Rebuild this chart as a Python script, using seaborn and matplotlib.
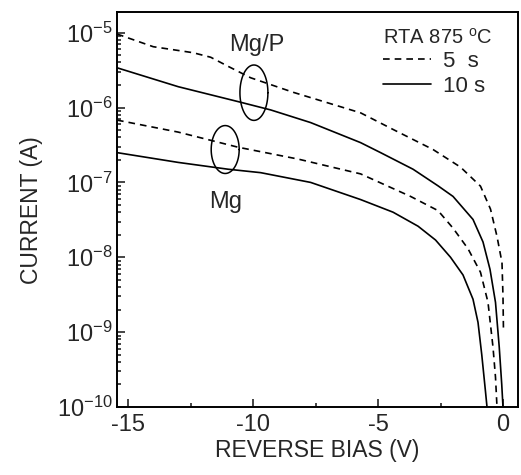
import numpy as np
import matplotlib
matplotlib.use("Agg")
import matplotlib.pyplot as plt
import seaborn as sns

# reverse bias (V) and current (A)
mgp_5s_v = [-15.45, -14.0, -12.4, -11.7, -11.0, -10.1, -8.4, -5.7, -4.4, -2.8, -1.7, -0.9, -0.5, -0.24, -0.04, 0.0, 0.02]
mgp_5s_i = [9.6e-6, 6.5e-6, 5.4e-6, 4.7e-6, 3.55e-6, 2.5e-6, 1.6e-6, 8.5e-7, 5.1e-7, 2.75e-7, 1.6e-7, 8.9e-8, 4.4e-8, 1.9e-8, 8.5e-9, 3.0e-9, 1.0e-9]

mgp_10s_v = [-15.45, -13.0, -10.6, -9.3, -7.7, -5.7, -4.9, -3.6, -2.6, -2.0, -1.2, -0.8, -0.52, -0.3, -0.15, -0.05, 0.0]
mgp_10s_i = [3.4e-6, 1.9e-6, 1.2e-6, 9.3e-7, 6.3e-7, 3.4e-7, 2.5e-7, 1.5e-7, 9.0e-8, 6.5e-8, 3.2e-8, 1.6e-8, 6.9e-9, 2.5e-9, 6.3e-10, 2.0e-10, 1.0e-10]

mg_5s_v = [-15.45, -13.0, -10.6, -8.2, -5.7, -3.7, -2.6, -2.0, -1.4, -0.9, -0.6, -0.4, -0.3, -0.24]
mg_5s_i = [6.8e-7, 4.7e-7, 2.95e-7, 2.05e-7, 1.3e-7, 6.5e-8, 4.2e-8, 2.45e-8, 1.3e-8, 6.3e-9, 2.5e-9, 6.3e-10, 2.5e-10, 1.0e-10]

mg_10s_v = [-15.45, -13.0, -11.0, -9.7, -7.7, -5.7, -4.4, -3.4, -2.7, -2.1, -1.6, -1.2, -1.0, -0.85, -0.7, -0.64]
mg_10s_i = [2.5e-7, 1.85e-7, 1.5e-7, 1.35e-7, 1.0e-7, 5.9e-8, 4.0e-8, 2.6e-8, 1.7e-8, 1.0e-8, 5.8e-9, 2.75e-9, 1.35e-9, 5.0e-10, 1.6e-10, 1.0e-10]

# group marks: ellipse centre (V, A), half width (V), half height (decades)
ellipses = [(-9.97, 1.58e-6, 0.56, 0.37), (-11.12, 2.75e-7, 0.56, 0.32)]

sns.set_style("ticks")
plt.rcParams["font.family"] = ["Liberation Sans", "DejaVu Sans"]
plt.rcParams["mathtext.fontset"] = "custom"
plt.rcParams["mathtext.rm"] = "Liberation Sans"
plt.rcParams["mathtext.it"] = "Liberation Sans:italic"

fig = plt.figure(figsize=(5.21, 4.75), dpi=100)
ax = fig.add_axes([0.2246, 0.1432, 0.7696, 0.8305])

dash = (0, (4, 3))
sns.lineplot(x=mgp_5s_v, y=mgp_5s_i, ax=ax, color="black", lw=1.2, linestyle=dash, label="5  s")
sns.lineplot(x=mgp_10s_v, y=mgp_10s_i, ax=ax, color="black", lw=1.2, label="10 s")
sns.lineplot(x=mg_5s_v, y=mg_5s_i, ax=ax, color="black", lw=1.2, linestyle=dash)
sns.lineplot(x=mg_10s_v, y=mg_10s_i, ax=ax, color="black", lw=1.2)

ax.set_yscale("log")
ax.set_xlim(-15.45, 0.6)
ax.set_ylim(1e-10, 10 ** -4.73)

t = np.linspace(0, 2 * np.pi, 100)
for cx, cy, a, b in ellipses:
    ax.plot(cx + a * np.cos(t), cy * 10 ** (b * np.sin(t)), color="black", lw=1.1)

ax.text(-9.85, 10 ** -5.16, "Mg/P", fontsize=17, ha="center", va="center")
ax.text(-11.12, 10 ** -7.26, "Mg", fontsize=17, ha="center", va="center")

ax.set_xticks([-15, -10, -5, 0])
ax.set_xticklabels(["-15", "-10", "-5", "0"])
ax.set_xticks([-12.5, -7.5, -2.5], minor=True)
ax.set_yticks([1e-10, 1e-9, 1e-8, 1e-7, 1e-6, 1e-5])
ax.tick_params(which="both", direction="in", labelsize=17, width=1.2)
ax.tick_params(axis="x", pad=5)
ax.tick_params(axis="y", pad=3)
ax.tick_params(which="major", length=6)
ax.tick_params(which="minor", length=3)
for s in ax.spines.values():
    s.set_linewidth(1.4)
    s.set_color("black")

ax.set_xlabel("REVERSE BIAS (V)", fontsize=16.5, labelpad=2)
ax.set_ylabel("CURRENT (A)", fontsize=16.5, labelpad=10)

leg = ax.legend(title=r"RTA 875 $^{\rm o}$C", loc="upper right", frameon=False,
                fontsize=16, title_fontsize=14.5, handlelength=2.2, handletextpad=0.5,
                labelspacing=0.2, borderaxespad=0.2, bbox_to_anchor=(0.968, 0.995))
leg._legend_box.align = "left"
leg._legend_box.sep = 2

fig.savefig("out.png", dpi=100)
